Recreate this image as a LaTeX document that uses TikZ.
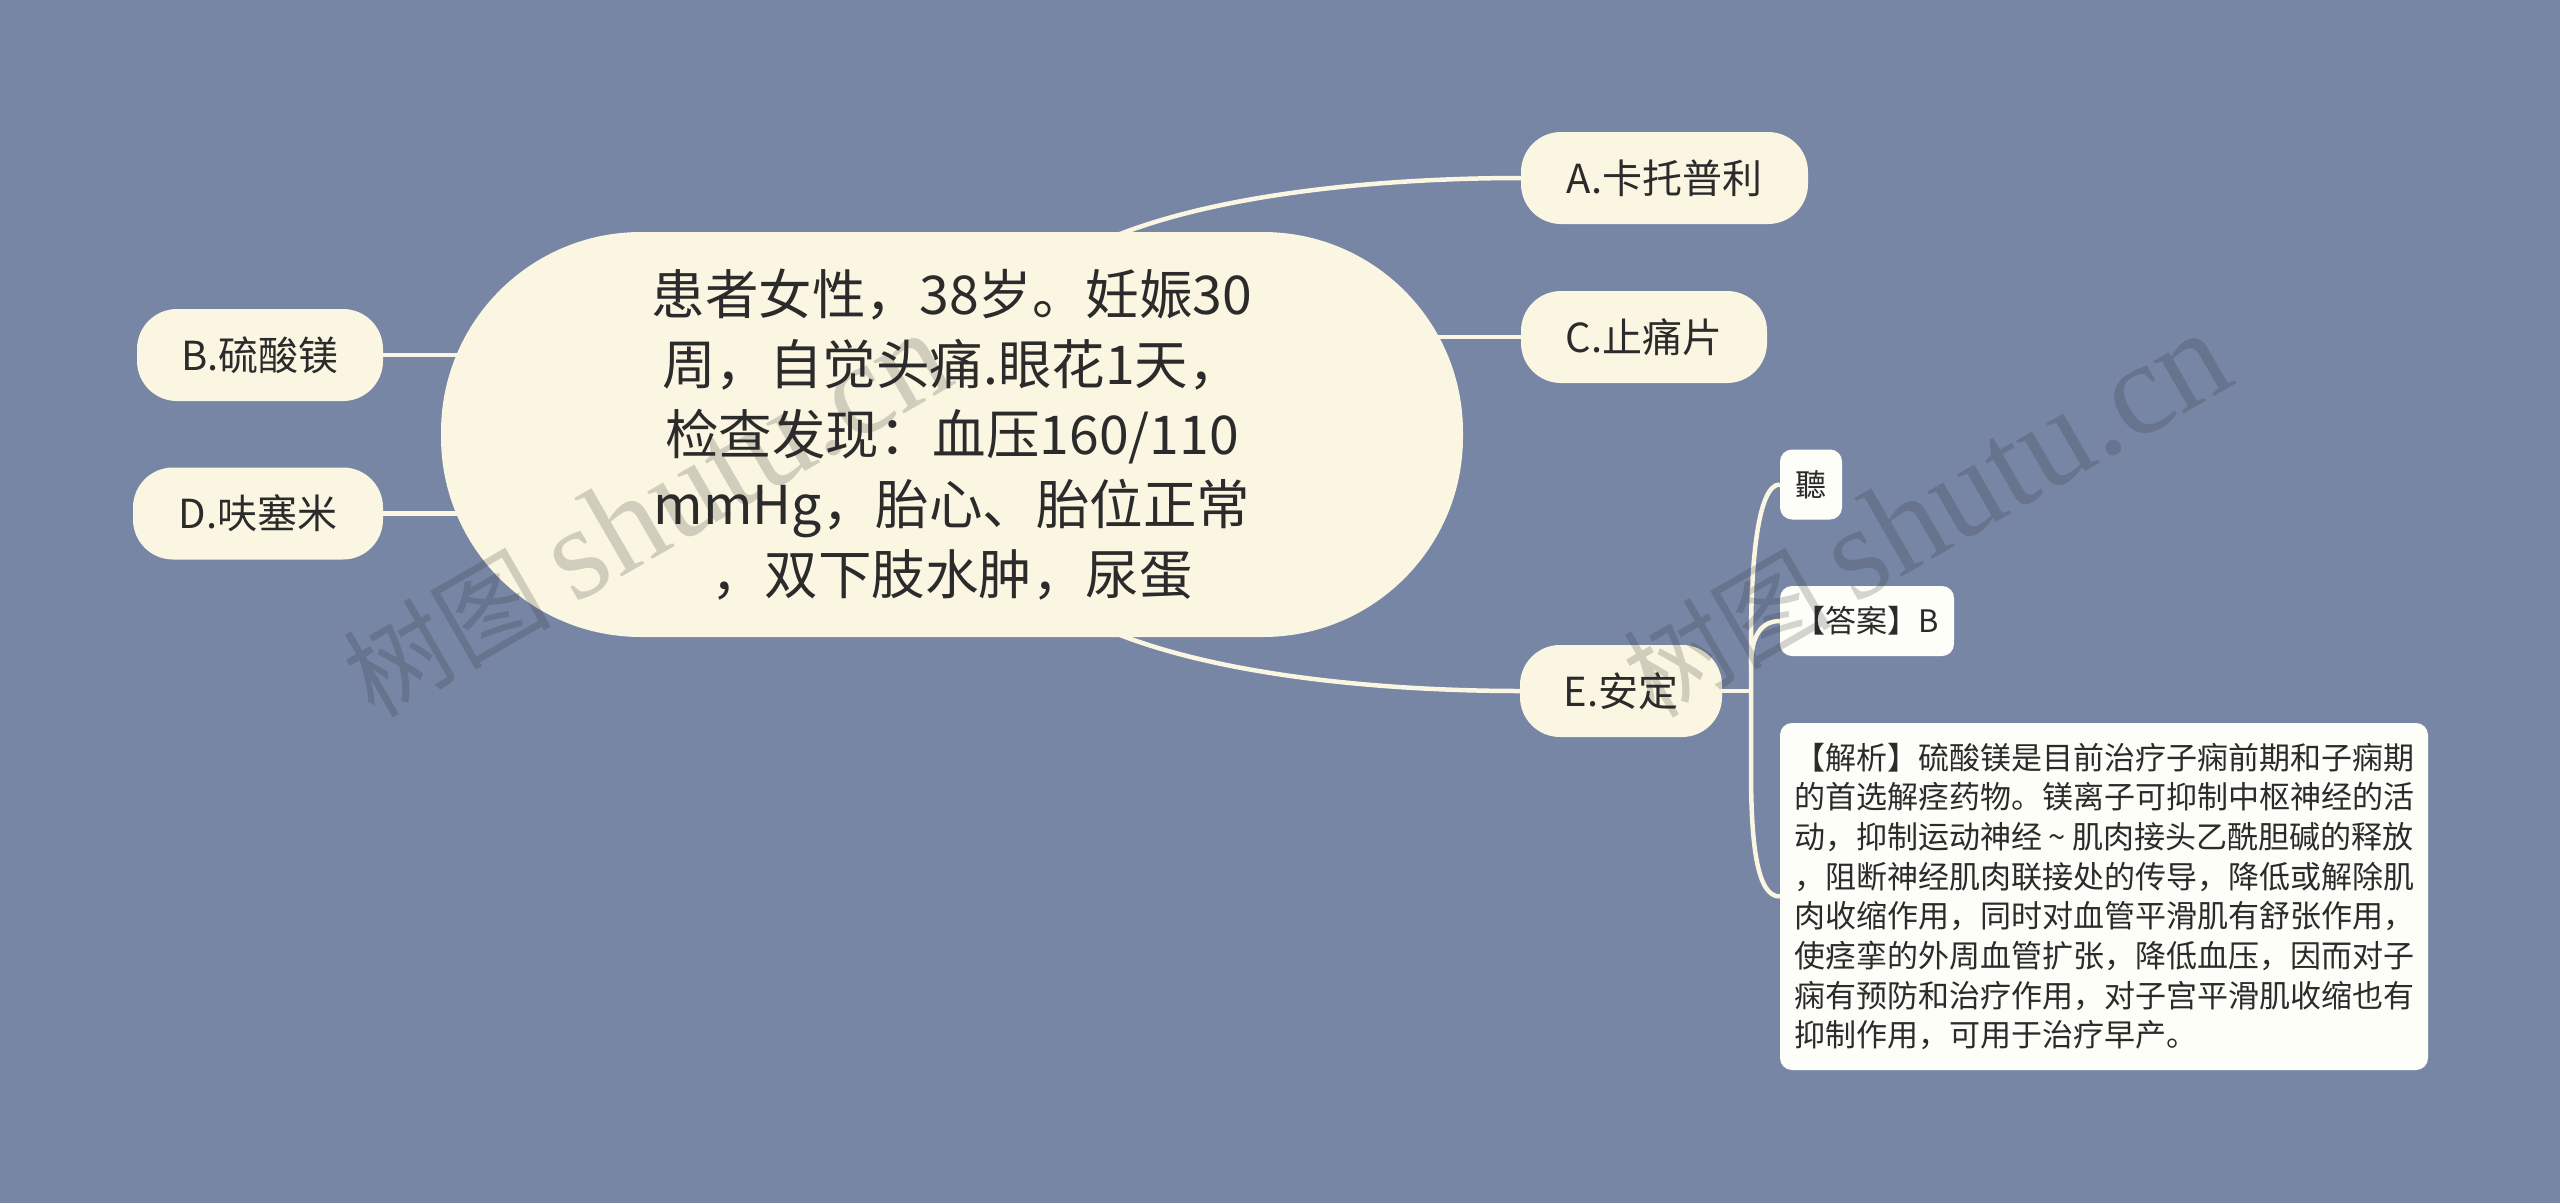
\documentclass[tikz,border=0pt]{standalone}
\usepackage{fontspec}
\setmainfont{Noto Sans CJK SC}
\newfontfamily\markfont{Liberation Serif}
\usetikzlibrary{backgrounds}

\definecolor{pagecol}{RGB}{120,134,166}
\definecolor{creamcol}{RGB}{250,246,226}
\definecolor{notecol}{RGB}{254,254,248}
\definecolor{inkcol}{RGB}{43,43,43}

\tikzset{
  topicnode/.style={fill=creamcol, text=inkcol, rounded corners=40pt, minimum height=92pt, inner sep=0pt, font=\fontsize{40}{46}\selectfont},
  rootnode/.style={fill=creamcol, text=inkcol, rounded corners=200pt, minimum width=1022pt, minimum height=405pt, inner sep=0pt, align=center, font=\fontsize{53.5}{70}\selectfont},
  notenode/.style={fill=notecol, text=inkcol, rounded corners=12pt, inner sep=0pt, font=\fontsize{31}{39.7}\selectfont},
  link/.style={draw=creamcol, line width=4.5pt},
  wmark/.style={text=inkcol, opacity=0.2, rotate=30, font=\fontsize{104}{118}\selectfont},
}

\begin{document}
\begin{tikzpicture}[x=1pt,y=-1pt]
  \useasboundingbox (0,0) rectangle (2560,1203);

  % main topic
  \node[rootnode] (root) at (952,434.5) {患者女性，38岁。妊娠30\\周，自觉头痛.眼花1天，\\检查发现：血压160/110\\mmHg，胎心、胎位正常\\，双下肢水肿，尿蛋};

  % answers
  \node[topicnode, minimum width=287pt] (a) at (1664.5,178) {A.卡托普利};
  \node[topicnode, minimum width=246pt] (c) at (1644,337) {C.止痛片};
  \node[topicnode, minimum width=246pt] (b) at (260,355) {B.硫酸镁};
  \node[topicnode, minimum width=250pt] (d) at (258,513.5) {D.呋塞米};
  \node[topicnode, minimum width=202pt] (e) at (1621,691) {E.安定};

  % notes on E
  \node[notenode, minimum width=62pt, minimum height=70pt] (listen) at (1811,484.5) {聽};
  \node[notenode, minimum width=174pt, minimum height=70pt] (answer) at (1867,621) {【答案】B};
  \node[notenode, minimum width=648pt, minimum height=347pt, align=left] (explain) at (2104,896.5) {【解析】硫酸镁是目前治疗子痫前期和子痫期\\的首选解痉药物。镁离子可抑制中枢神经的活\\动，抑制运动神经\hspace{0.22em}\textasciitilde\hspace{0.22em}肌肉接头乙酰胆碱的释放\\，阻断神经肌肉联接处的传导，降低或解除肌\\肉收缩作用，同时对血管平滑肌有舒张作用，\\使痉挛的外周血管扩张，降低血压，因而对子\\痫有预防和治疗作用，对子宫平滑肌收缩也有\\抑制作用，可用于治疗早产。};

  \coordinate (roottop) at (1115,236);
  \coordinate (rootbot) at (1115,633);
  \coordinate (trunk) at (1751,691);

  \begin{scope}[on background layer]
    \fill[pagecol] (0,0) rectangle (2560,1203);
    \draw[link] (roottop) .. controls (1230,190) and (1400,178) .. (a.west);
    \draw[link] (rootbot) .. controls (1230,679) and (1400,691) .. (e.west);
    \draw[link] (root.center |- c.west) -- (c.west);
    \draw[link] (b.east) -- (root.center |- b.east);
    \draw[link] (d.east) -- (root.center |- d.east);
    \draw[link] (e.east) -- (trunk);
    \draw[link] (trunk) -- (1751,640) .. controls (1751,560) and (1758,484.5) .. (listen.west);
    \draw[link] (1751,665) .. controls (1751,635) and (1762,621) .. (answer.west);
    \draw[link] (trunk) -- (1751,770) .. controls (1751,850) and (1758,896.5) .. (explain.west);
  \end{scope}

  % site marks
  \node[wmark] (mark1) at (646,515) {树图 {\markfont\fontsize{132}{132}\selectfont shutu.cn}};
  \node[wmark] (mark2) at (1926,515) {树图 {\markfont\fontsize{132}{132}\selectfont shutu.cn}};
\end{tikzpicture}
\end{document}
